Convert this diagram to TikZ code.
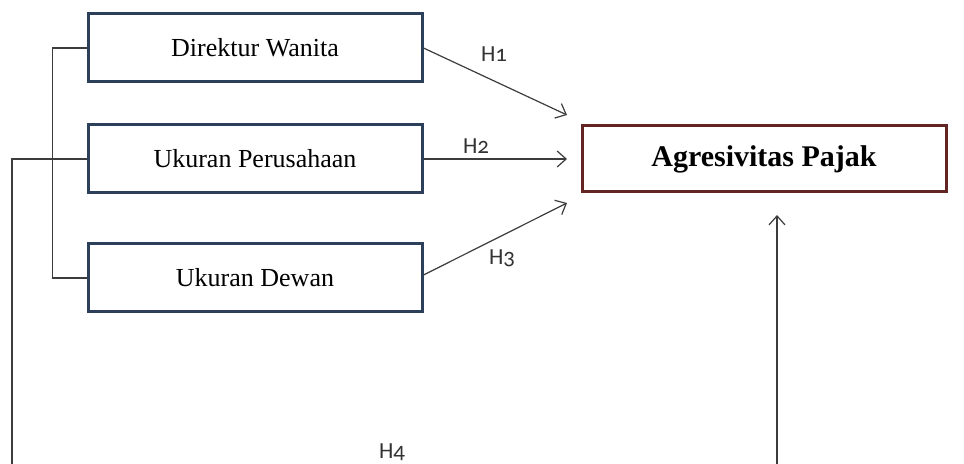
\documentclass[tikz,border=0pt]{standalone}
\usepackage{fontspec}
\setmainfont{Liberation Serif}
\newfontfamily\hfont{Carlito}[Numbers=OldStyle]
\usetikzlibrary{arrows.meta}
\definecolor{boxblue}{RGB}{44,64,92}
\definecolor{boxred}{HTML}{632523}
\definecolor{linegray}{RGB}{60,60,60}
\begin{document}
\begin{tikzpicture}[x=0.5pt,y=-0.5pt,
  varbox/.style={draw=boxblue,line width=1.5pt,minimum width=167pt,minimum height=34pt,inner sep=0pt,font=\fontsize{13}{15}\selectfont},
  depbox/.style={draw=boxred,line width=1.5pt,minimum width=182pt,minimum height=33pt,inner sep=0pt,font=\fontsize{15}{17}\selectfont\bfseries},
  link/.style={draw=linegray,line width=0.6pt},
  arr/.style={link,-{Straight Barb[length=4.5pt,width=8pt]}},
  hyp/.style={font=\hfont\fontsize{11.5}{13}\selectfont,text=black!80}]
\useasboundingbox (0,0) rectangle (964,464);
\node [varbox] (dw) at (255,48) {Direktur Wanita};
\node [varbox] (up) at (255,159) {Ukuran Perusahaan};
\node [varbox] (ud) at (255,278) {Ukuran Dewan};
\node [depbox] (ap) at (764,159) {Agresivitas Pajak};

\coordinate (t1) at (567,115);
\coordinate (t2) at (567,159);
\coordinate (t3) at (567,203);
\coordinate (t4) at (777,215);
\coordinate (bl) at (12,470);
\coordinate (br) at (777,470);

\draw [arr] (dw.east) -- (t1);
\draw [arr] (up.east) -- (t2);
\draw [arr] ([yshift=1.5pt]ud.east) -- (t3);
\draw [arr] (br) -- (t4);
\draw [link] (dw.west) -- ++(-34,0) |- (ud.west);
\draw [link] (up.west) -| (bl);

\node [hyp] (h1) at (494,54) {H1};
\node [hyp] (h2) at (476,146) {H2};
\node [hyp] (h3) at (502,258) {H3};
\node [hyp] (h4) at (392,452) {H4};
\end{tikzpicture}
\end{document}
